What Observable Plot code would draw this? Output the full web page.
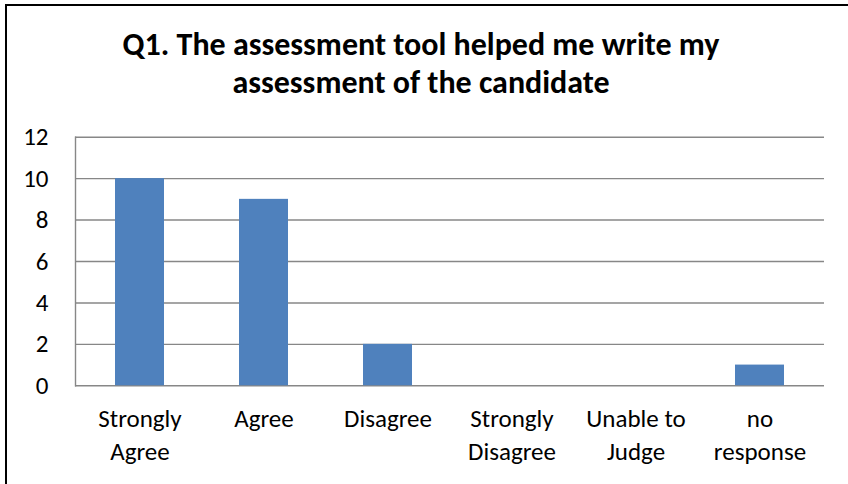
<!DOCTYPE html>
<html>
<head>
<meta charset="utf-8">
<script src="https://cdn.jsdelivr.net/npm/d3@7"></script>
<script src="https://cdn.jsdelivr.net/npm/@observablehq/plot@0.6"></script>
<style>
  html, body { margin: 0; padding: 0; background: #fff; overflow: hidden; }
  #wrap { position: relative; width: 848px; height: 484px; overflow: hidden; background: #fff; }
  #border { position: absolute; left: 5px; top: 4px; width: 900px; height: 600px;
            border-top: 2px solid #000; border-left: 2px solid #000; box-sizing: border-box; }
  #title { position: relative; height: 110px; width: 848px; box-sizing: border-box;
           padding-top: 26px; text-align: center; font-family: Carlito, Calibri, Lato, sans-serif;
           font-weight: bold; font-size: 32px; line-height: 38px; color: #000; }
  #title div { transform: translateX(-3px); white-space: nowrap; }
  #chart { position: relative; }
</style>
</head>
<body>
<div id="wrap">
  <div id="border"></div>
  <div id="title"><div>Q1. The assessment tool helped me write my</div><div>assessment of the candidate</div></div>
  <div id="chart"></div>
</div>
<script>
const categories = ["Strongly Agree", "Agree", "Disagree", "Strongly Disagree", "Unable to Judge", "no response"];
const categoryLabels = ["Strongly\nAgree", "Agree", "Disagree", "Strongly\nDisagree", "Unable to\nJudge", "no\nresponse"];
const counts = [10, 9, 2, 0, 0, 1];
const yTicks = [0, 2, 4, 6, 8, 10, 12];

const data = categories.map((c, i) => ({category: c, count: counts[i]}));
const labelOf = new Map(categories.map((c, i) => [c, categoryLabels[i]]));

const chart = Plot.plot({
  width: 848,
  height: 374,
  marginTop: 26.7,
  marginBottom: 98.7,
  marginLeft: 75,
  marginRight: 24,
  style: {fontFamily: "Carlito, Calibri, Lato, sans-serif", fontSize: "25px", color: "#000", background: "transparent", overflow: "visible"},
  x: {domain: categories, paddingInner: 0.607, paddingOuter: 0.3035, axis: null},
  y: {domain: [0, 12], axis: null},
  marks: [
    Plot.ruleY(yTicks, {stroke: "#878787", strokeWidth: 1.4, strokeOpacity: 1}),
    Plot.frame({anchor: "left", stroke: "#878787", strokeWidth: 1.4}),
    Plot.barY(data, {x: "category", y: "count", fill: "#4F81BD"}),
    Plot.axisY({ticks: yTicks, label: null, tickSize: 0, tickPadding: 27, tickFormat: d => String(d), fontSize: 25, fill: "#000"}),
    Plot.axisX({label: null, tickSize: 0, tickPadding: 18, tickFormat: d => labelOf.get(d), lineHeight: 1.32, fontSize: 25, fill: "#000"})
  ]
});
document.getElementById("chart").appendChild(chart);
</script>
</body>
</html>
